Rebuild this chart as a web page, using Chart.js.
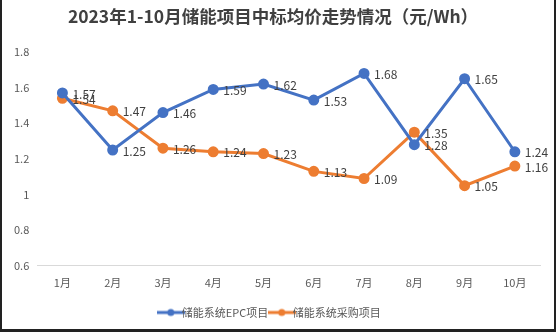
<!DOCTYPE html>
<html>
<head>
<meta charset="utf-8">
<script src="https://cdn.jsdelivr.net/npm/chart.js@4/dist/chart.umd.min.js"></script>
<style>
    body { margin: 0; background: #fff; }
    .frame {
        width: 552px; height: 329px;
        border-left: 2px solid #222; border-right: 2px solid #222; border-bottom: 3px solid #222;
        position: relative; background: #fff;
    }
    #price-chart { display: block; }
</style>
</head>
<body>
<div class="frame">
    <canvas id="price-chart" width="552" height="329"></canvas>
</div>
<script>
    "use strict";

    // data
    var months = ["1月", "2月", "3月", "4月", "5月", "6月", "7月", "8月", "9月", "10月"];
    var epcPrices = [1.57, 1.25, 1.46, 1.59, 1.62, 1.53, 1.68, 1.28, 1.65, 1.24];
    var systemPrices = [1.54, 1.47, 1.26, 1.24, 1.23, 1.13, 1.09, 1.35, 1.05, 1.16];
    var yTicks = [0.6, 0.8, 1, 1.2, 1.4, 1.6, 1.8];

    var fontFamily = "'Noto Sans CJK SC', 'Noto Sans', sans-serif";

    // legend marker: short line with a dot, like Excel
    var lineMarker = function (color) {
        var c = document.createElement("canvas");
        c.width = 28; c.height = 10;
        var g = c.getContext("2d");
        g.strokeStyle = color;
        g.lineWidth = 3;
        g.beginPath();
        g.moveTo(0, 5);
        g.lineTo(28, 5);
        g.stroke();
        g.fillStyle = color;
        g.beginPath();
        g.arc(14, 5, 3.5, 0, Math.PI * 2);
        g.fill();
        return c;
    };

    // value labels to the right of each point
    var valueLabels = {
        id: "valueLabels",
        afterDatasetsDraw: function (chart) {
            var ctx = chart.ctx;
            ctx.save();
            ctx.font = "12px " + fontFamily;
            ctx.fillStyle = "#404040";
            ctx.textAlign = "left";
            ctx.textBaseline = "middle";
            chart.data.datasets.forEach(function (ds, i) {
                chart.getDatasetMeta(i).data.forEach(function (pt, j) {
                    ctx.fillText(String(ds.data[j]), pt.x + 10, pt.y + 1);
                });
            });
            ctx.restore();
        }
    };

    var ctx = document.getElementById("price-chart").getContext("2d");
    var priceChart = new Chart(ctx, {
        type: "line",
        data: {
            labels: months,
            datasets: [{
                    label: "储能系统EPC项目",
                    data: epcPrices,
                    borderColor: "#4472C4",
                    backgroundColor: "#4472C4",
                    pointStyle: "circle",
                    borderWidth: 3,
                    pointRadius: 4,
                    pointHoverRadius: 4,
                    tension: 0
                },
                {
                    label: "储能系统采购项目",
                    data: systemPrices,
                    borderColor: "#ED7D31",
                    backgroundColor: "#ED7D31",
                    pointStyle: "circle",
                    borderWidth: 3,
                    pointRadius: 4,
                    pointHoverRadius: 4,
                    tension: 0
                }
            ]
        },
        options: {
            responsive: false,
            animation: false,
            layout: { padding: { left: 4, right: 14, top: 0, bottom: 1 } },
            plugins: {
                title: {
                    display: true,
                    text: "2023年1-10月储能项目中标均价走势情况（元/Wh）",
                    color: "#404040",
                    font: { family: fontFamily, size: 17.5, weight: "bold" },
                    padding: { top: 6, bottom: 25 }
                },
                legend: {
                    position: "bottom",
                    labels: {
                        usePointStyle: true,
                        color: "#595959",
                        font: { family: fontFamily, size: 11 },
                        padding: 8,
                        generateLabels: function (chart) {
                            return chart.data.datasets.map(function (ds, i) {
                                return {
                                    text: ds.label,
                                    fontColor: "#595959",
                                    pointStyle: lineMarker(ds.borderColor),
                                    datasetIndex: i,
                                    lineWidth: 0
                                };
                            });
                        }
                    }
                },
                tooltip: { enabled: false }
            },
            scales: {
                x: {
                    offset: true,
                    grid: { display: false, drawTicks: false },
                    border: { color: "#d9d9d9" },
                    ticks: { color: "#595959", font: { family: fontFamily, size: 11 }, padding: 10 }
                },
                y: {
                    min: 0.6,
                    max: 1.8,
                    afterBuildTicks: function (axis) {
                        axis.ticks = yTicks.map(function (v) { return { value: v }; });
                    },
                    grid: { display: false, drawTicks: false },
                    border: { display: false },
                    ticks: {
                        color: "#595959",
                        font: { family: fontFamily, size: 11 },
                        padding: 8,
                        callback: function (v) { return String(v); }
                    }
                }
            }
        },
        plugins: [valueLabels]
    });
</script>
</body>
</html>
